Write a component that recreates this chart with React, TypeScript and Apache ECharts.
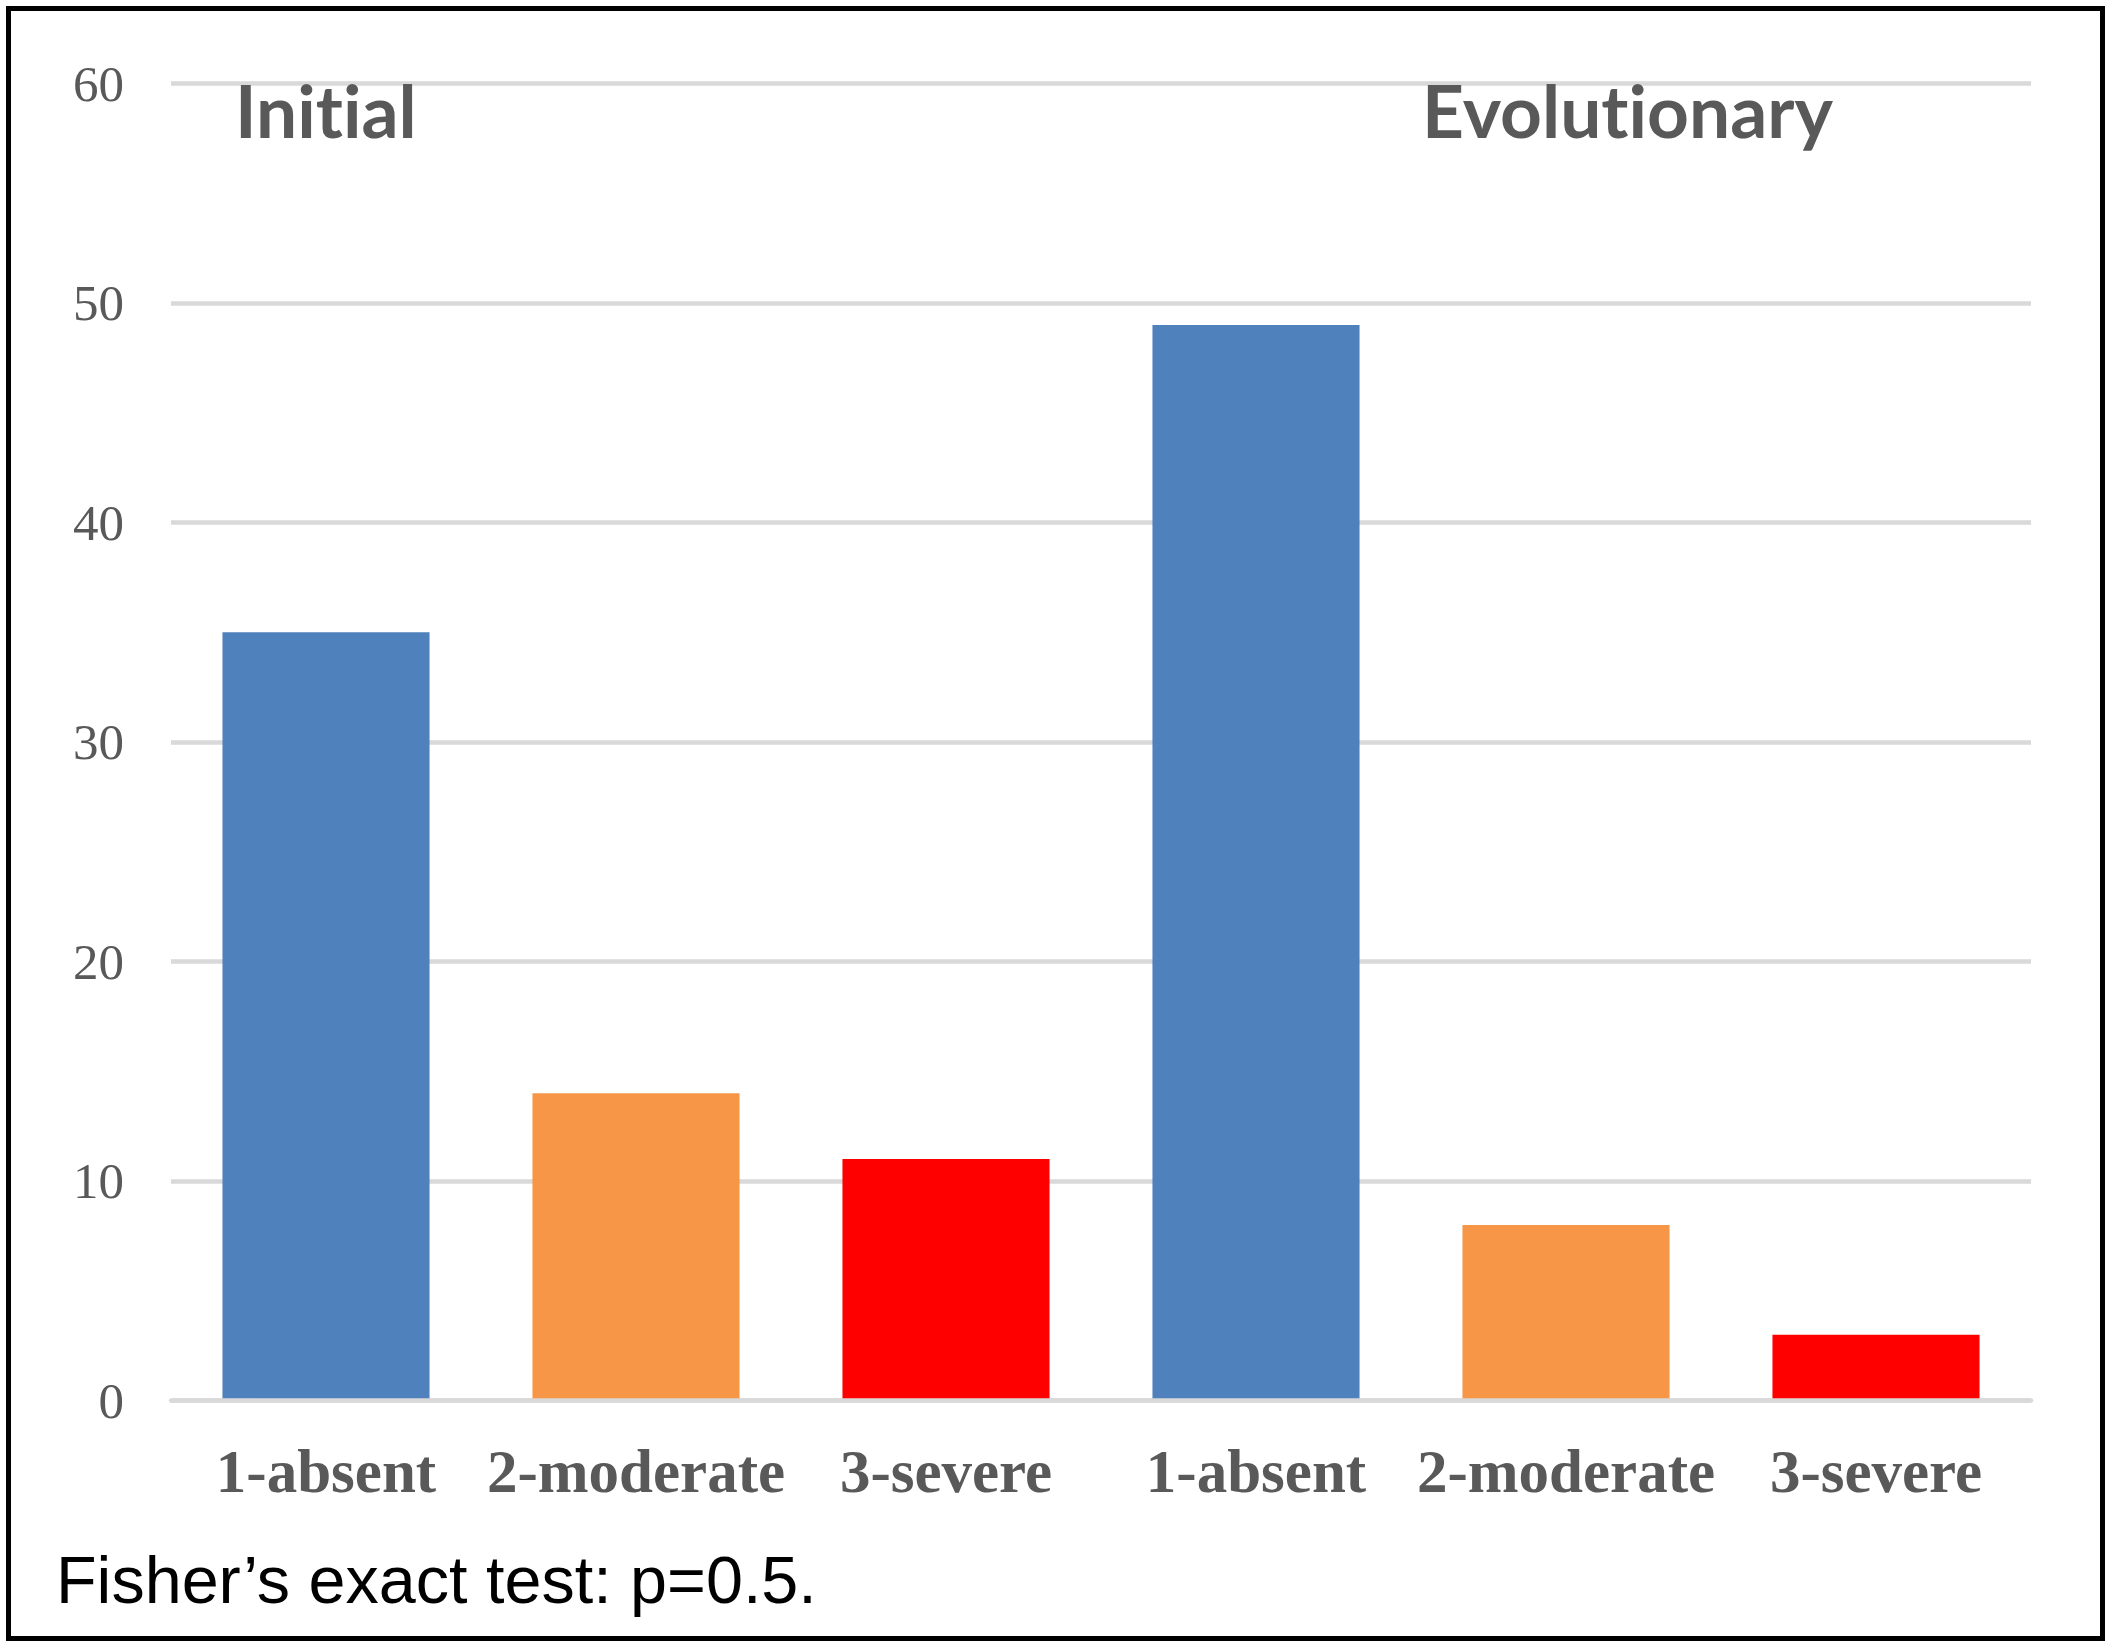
import React, { useEffect, useRef } from "react";
import * as echarts from "echarts";

const groups = ["Initial", "Evolutionary"];
const severities = ["1-absent", "2-moderate", "3-severe"];
const initialValues = [35, 14, 11];
const evolutionaryValues = [49, 8, 3];
const severityColors = ["#4F81BD", "#F79646", "#FF0000"];
const yTicks = [0, 10, 20, 30, 40, 50, 60];
const footnote = "Fisher’s exact test: p=0.5.";

export default function App() {
  const ref = useRef<HTMLDivElement>(null);

  useEffect(() => {
    if (!ref.current) return;
    const chart = echarts.init(ref.current, null, { renderer: "svg" });

    const categories: string[] = [];
    const values: any[] = [];
    const groupValues = [initialValues, evolutionaryValues];
    groups.forEach((g, gi) => {
      severities.forEach((s, si) => {
        categories.push(g + "|" + s);
        values.push({
          value: groupValues[gi][si],
          itemStyle: { color: severityColors[si] },
        });
      });
    });

    const option: any = {
      animation: false,
      backgroundColor: "#FFFFFF",
      grid: { left: 171, right: 80, top: 83.5, bottom: 247.5, containLabel: false },
      xAxis: {
        type: "category",
        data: categories,
        z: 3,
        axisLine: { show: true, lineStyle: { color: "#D9D9D9", width: 4.5 } },
        axisTick: { show: false },
        axisLabel: {
          interval: 0,
          margin: 40,
          fontFamily: "Liberation Serif",
          fontWeight: "bold",
          fontSize: 61,
          color: "#595959",
          formatter: (v: string) => v.split("|")[1],
        },
      },
      yAxis: {
        type: "value",
        min: yTicks[0],
        max: yTicks[yTicks.length - 1],
        interval: 10,
        axisLine: { show: false },
        axisTick: { show: false },
        splitLine: { show: true, lineStyle: { color: "#D9D9D9", width: 4.5 } },
        axisLabel: {
          margin: 47,
          fontFamily: "Liberation Serif",
          fontSize: 51,
          color: "#595959",
        },
      },
      series: [
        {
          type: "bar",
          data: values,
          barWidth: "66.8%",
        },
      ],
      graphic: [
        {
          type: "rect",
          shape: { x: 8.5, y: 8.5, width: 2094, height: 1630 },
          style: { fill: "none", stroke: "#000000", lineWidth: 5 },
          z: 100,
        },
        {
          type: "text",
          x: 235,
          y: 110,
          style: {
            text: groups[0],
            fontFamily: "Lato",
            fontWeight: "bold",
            fontSize: 73,
            fill: "#595959",
            verticalAlign: "middle",
            align: "left",
          },
          z: 100,
        },
        {
          type: "text",
          x: 1422,
          y: 110,
          style: {
            text: groups[1],
            fontFamily: "Lato",
            fontWeight: "bold",
            fontSize: 73,
            fill: "#595959",
            verticalAlign: "middle",
            align: "left",
          },
          z: 100,
        },
        {
          type: "text",
          x: 56,
          y: 1580,
          style: {
            text: footnote,
            fontFamily: "Liberation Sans",
            fontSize: 66.5,
            fill: "#000000",
            verticalAlign: "middle",
            align: "left",
          },
          z: 100,
        },
      ],
    };

    chart.setOption(option);
    return () => chart.dispose();
  }, []);

  return (
    <>
      <style>{"svg text { font-variant-ligatures: none; font-feature-settings: 'liga' 0, 'clig' 0; }"}</style>
      <div
        ref={ref}
        style={{ position: "fixed", left: 0, top: 0, width: 2111, height: 1648, background: "#fff" }}
      />
    </>
  );
}
